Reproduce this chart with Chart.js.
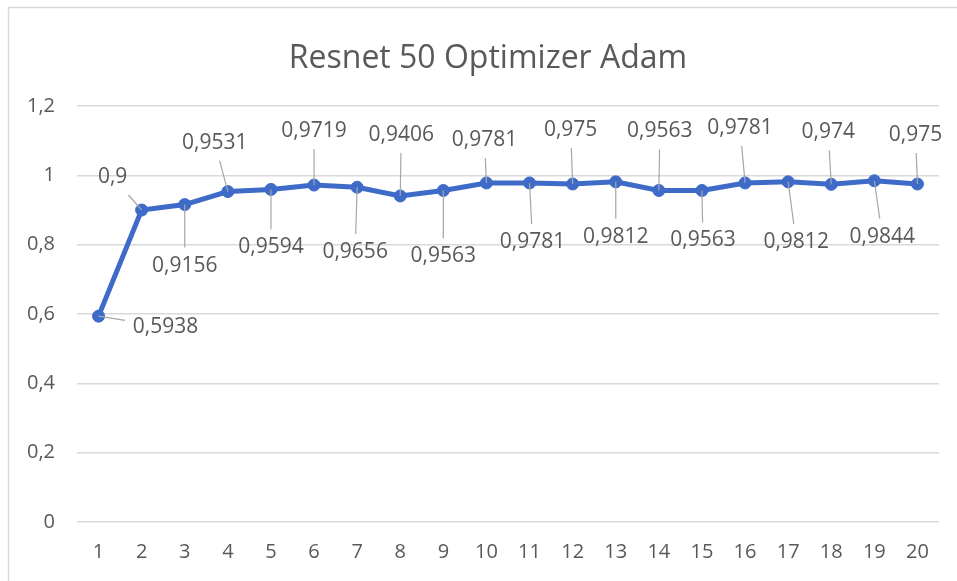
<!DOCTYPE html>
<html>
<head>
<meta charset="utf-8">
<style>
  html, body { margin: 0; padding: 0; background: #fff; }
  #wrap { position: relative; width: 957px; height: 581px; }
</style>
<script src="https://cdn.jsdelivr.net/npm/chart.js@4"></script>
</head>
<body>
<div id="wrap"><canvas id="c" width="957" height="581"></canvas></div>
<script>
const titleText = 'Resnet 50 Optimizer Adam';
const categories = ['1','2','3','4','5','6','7','8','9','10','11','12','13','14','15','16','17','18','19','20'];
const accuracy = [0.5938, 0.9, 0.9156, 0.9531, 0.9594, 0.9719, 0.9656, 0.9406, 0.9563, 0.9781,
                  0.9781, 0.975, 0.9812, 0.9563, 0.9563, 0.9781, 0.9812, 0.974, 0.9844, 0.975];
const yTickLabels = ['0', '0,2', '0,4', '0,6', '0,8', '1', '1,2'];

// label placement offsets (pixels from the marker) — styling only
const labelDX = [67, -29, 0, -13, 0, 0, -2, 1, 0, -2, 3, -2, 0, 1, 1, -5, 8, -3, 8, -2];
const labelDY = [11, -33, 61, -49, 58, -54, 65, -61, 66, -43, 59, -54, 55, -59, 50, -55, 60, -52, 56, -49];

const FONT = '"Open Sans", "Noto Sans", sans-serif';
const TEXT = '#595959';
const GRID = '#D9D9D9';
const LINE = '#3E6BC8';

const fmt = v => v.toString().replace('.', ',');

const frame = {
  id: 'frame',
  beforeDraw(chart) {
    const ctx = chart.ctx;
    ctx.save();
    ctx.fillStyle = '#fff';
    ctx.fillRect(0, 0, chart.width, chart.height);
    ctx.strokeStyle = GRID;
    ctx.lineWidth = 1.5;
    ctx.beginPath();
    ctx.moveTo(8.5, chart.height);
    ctx.lineTo(8.5, 7.5);
    ctx.lineTo(chart.width, 7.5);
    ctx.stroke();
    // chart title (text kept as real text)
    ctx.font = '32px ' + FONT;
    ctx.fillStyle = TEXT;
    ctx.textAlign = 'center';
    ctx.textBaseline = 'alphabetic';
    ctx.fillText(titleText, 488, 68);
    ctx.restore();
  }
};

function labelGeom(chart, i, ctx) {
  const meta = chart.getDatasetMeta(0);
  const p = meta.data[i];
  const cx = p.x + labelDX[i], cy = p.y + labelDY[i];
  const text = fmt(accuracy[i]);
  const tw = ctx.measureText(text).width;
  return { p, cx, cy, text, hw: tw / 2 + 8, hh: 18 };
}

const dataLabels = {
  id: 'dataLabels',
  afterDatasetsDraw(chart) {
    const ctx = chart.ctx;
    ctx.save();
    ctx.font = '21px ' + FONT;
    ctx.strokeStyle = '#A6A6A6';
    ctx.lineWidth = 1.2;
    for (let i = 0; i < accuracy.length; i++) {
      const g = labelGeom(chart, i, ctx);
      const dx = g.p.x - g.cx, dy = g.p.y - g.cy;
      const sx = dx === 0 ? Infinity : g.hw / Math.abs(dx);
      const sy = dy === 0 ? Infinity : g.hh / Math.abs(dy);
      const s = Math.min(sx, sy);
      if (s >= 1) continue;
      ctx.beginPath();
      ctx.moveTo(g.p.x, g.p.y);
      ctx.lineTo(g.cx + dx * s, g.cy + dy * s);
      ctx.stroke();
    }
    ctx.fillStyle = TEXT;
    ctx.textAlign = 'center';
    ctx.textBaseline = 'middle';
    for (let i = 0; i < accuracy.length; i++) {
      const g = labelGeom(chart, i, ctx);
      ctx.fillText(g.text, g.cx, g.cy);
    }
    ctx.restore();
  }
};

new Chart(document.getElementById('c'), {
  type: 'line',
  data: {
    labels: categories,
    datasets: [{
      data: accuracy,
      borderColor: LINE,
      backgroundColor: LINE,
      borderWidth: 5,
      pointRadius: 6,
      pointBorderWidth: 1,
      pointBackgroundColor: LINE,
      pointBorderColor: LINE,
      tension: 0,
      fill: false
    }]
  },
  options: {
    responsive: false,
    animation: false,
    devicePixelRatio: 1,
    layout: { padding: { left: 0, right: 18, top: 106, bottom: 0 } },
    plugins: {
      legend: { display: false },
      tooltip: { enabled: false },
      title: { display: false }
    },
    scales: {
      x: {
        offset: true,
        grid: { display: false, drawTicks: false },
        border: { display: false },
        ticks: { color: TEXT, font: { family: FONT, size: 20 }, padding: 18, maxRotation: 0 },
        afterFit(s) { s.height = 59; }
      },
      y: {
        min: 0, max: 1.2,
        grid: { color: GRID, lineWidth: 1.5, drawTicks: false },
        border: { display: false },
        ticks: {
          stepSize: 0.2,
          color: TEXT,
          font: { family: FONT, size: 20 },
          padding: 22,
          callback: (v, i) => yTickLabels[i]
        },
        afterFit(s) { s.width = 77; }
      }
    }
  },
  plugins: [frame, dataLabels]
});
</script>
</body>
</html>
